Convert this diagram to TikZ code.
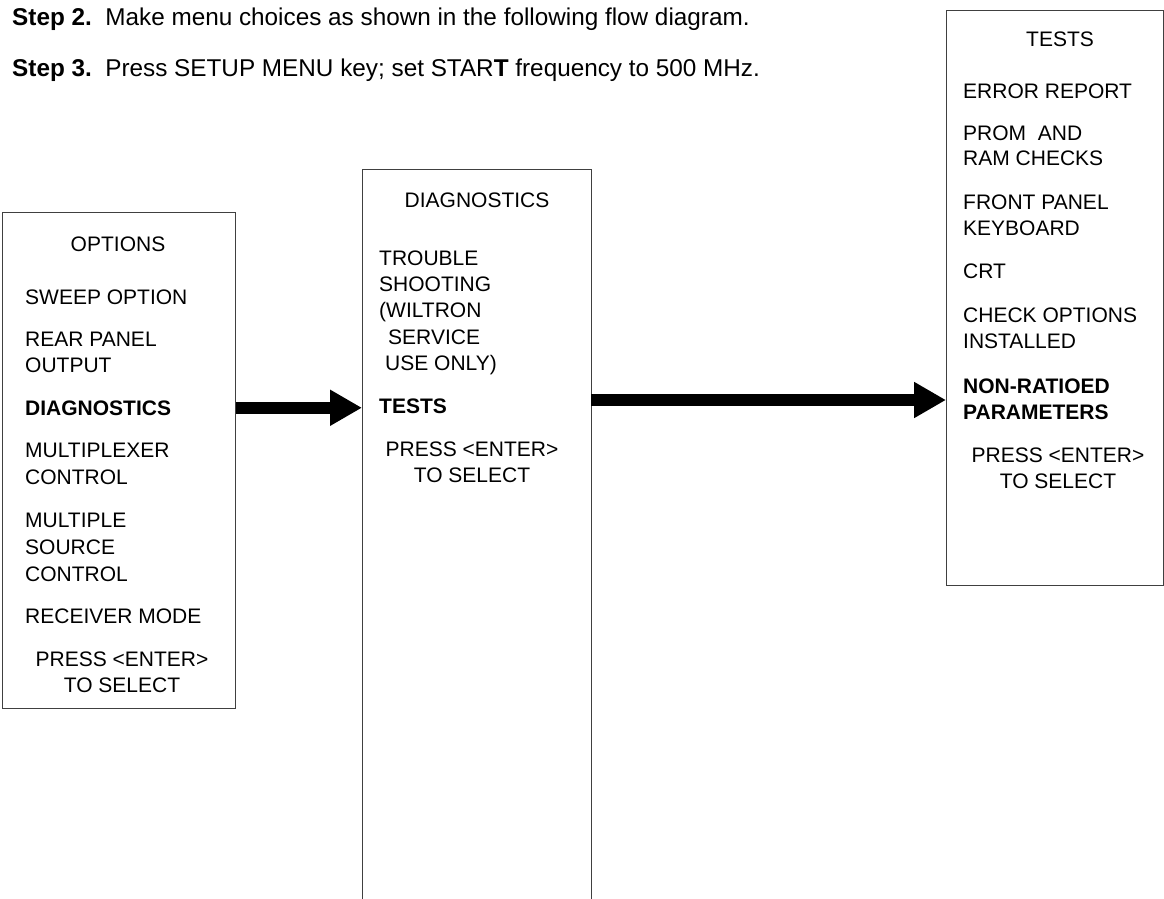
\documentclass[tikz,border=0pt]{standalone}
\usepackage{fontspec}
\setmainfont{Liberation Sans}
\usetikzlibrary{arrows.meta}
\tikzset{
  menubox/.style={draw=black!75, line width=0.9pt, inner sep=0pt, anchor=north west},
  item/.style={anchor=base west, inner sep=0pt, font=\fontsize{21}{26}\selectfont},
  citem/.style={anchor=base, inner sep=0pt, font=\fontsize{21}{26}\selectfont},
  hdr/.style={anchor=base west, inner sep=0pt, font=\fontsize{24.3}{28}\selectfont},
  bigarrow/.style={line width=12pt, -{Triangle[length=32pt,width=34pt]}},
}
\begin{document}
\begin{tikzpicture}[x=1pt,y=-1pt]
\useasboundingbox (0,0) rectangle (1164,899);
% header
\node[hdr] (s2) at (12,26) {\textbf{Step 2.}\ \ Make menu choices as shown in the following flow diagram.};
\node[hdr] (s3) at (12,76) {\textbf{Step 3.}\ \ Press SETUP MENU key; set STAR\textbf{T} frequency to 500 MHz.};
% boxes
\node[menubox, minimum width=233pt, minimum height=496pt] (opt) at (2,212) {};
\node[draw=none, inner sep=0pt, anchor=north west, minimum width=229pt, minimum height=740pt] (diag) at (362,169) {};
\draw[draw=black!75, line width=0.9pt] (diag.south west) -- (diag.north west) -- (diag.north east) -- (diag.south east);
\node[menubox, minimum width=217pt, minimum height=575pt] (tst) at (946,10) {};
% options box text
\node[citem] (o0) at (118,251) {OPTIONS};
\node[item] (o1) at (25,304) {SWEEP OPTION};
\node[item] (o2) at (25,346) {REAR PANEL};
\node[item] (o3) at (25,372) {OUTPUT};
\node[item] (o4) at (25,415) {\textbf{DIAGNOSTICS}};
\node[item] (o5) at (25,457) {MULTIPLEXER};
\node[item] (o6) at (25,484) {CONTROL};
\node[item] (o7) at (25,527) {MULTIPLE};
\node[item] (o8) at (25,554) {SOURCE};
\node[item] (o9) at (25,581) {CONTROL};
\node[item] (o10) at (25,623) {RECEIVER MODE};
\node[citem] (o11) at (122,666) {PRESS <ENTER>};
\node[citem] (o12) at (122,692) {TO SELECT};
% diagnostics box text
\node[citem] (d0) at (477,207) {DIAGNOSTICS};
\node[item] (d1) at (379,265) {TROUBLE};
\node[item] (d2) at (379,291) {SHOOTING};
\node[item] (d3) at (379,317) {(WILTRON};
\node[item] (d4) at (388,344) {SERVICE};
\node[item] (d5) at (385,370) {USE ONLY)};
\node[item] (d6) at (379,413) {\textbf{TESTS}};
\node[citem] (d7) at (472,456) {PRESS <ENTER>};
\node[citem] (d8) at (472,482) {TO SELECT};
% tests box text
\node[citem] (t0) at (1060,47) {TESTS};
\node[item] (t1) at (963,99) {ERROR REPORT};
\node[item] (t2) at (963,140) {PROM\ \ AND};
\node[item] (t3) at (963,165) {RAM CHECKS};
\node[item] (t4) at (963,209) {FRONT PANEL};
\node[item] (t5) at (963,235) {KEYBOARD};
\node[item] (t6) at (963,278) {CRT};
\node[item] (t7) at (963,322) {CHECK OPTIONS};
\node[item] (t8) at (963,348) {INSTALLED};
\node[item] (t9) at (963,393) {\textbf{NON-RATIOED}};
\node[item] (t10) at (963,419) {\textbf{PARAMETERS}};
\node[citem] (t11) at (1058,462) {PRESS <ENTER>};
\node[citem] (t12) at (1058,488) {TO SELECT};
% arrows
\draw[bigarrow] (opt.east |- o4.center) -- (diag.west |- o4.center);
\coordinate (a2) at (0,400);
\draw[bigarrow] (diag.east |- a2) -- (tst.west |- a2);
\end{tikzpicture}
\end{document}
